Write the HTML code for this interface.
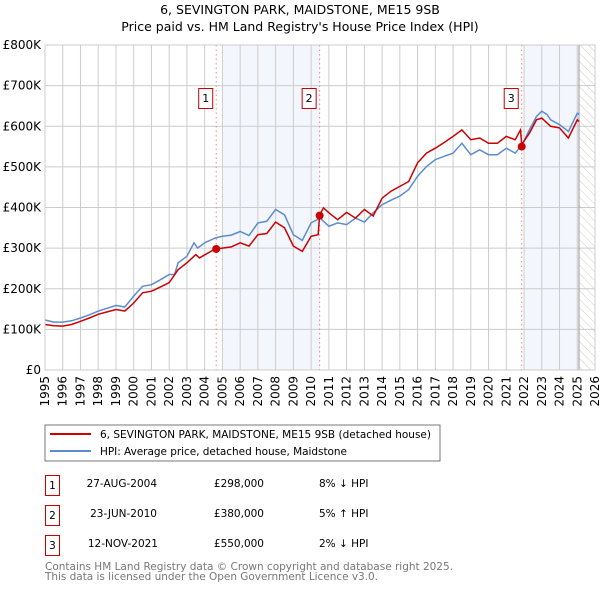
<!DOCTYPE html>
<html><head><meta charset="utf-8"><style>
body{margin:0;background:#fff;font-family:"DejaVu Sans","Liberation Sans",sans-serif;}
svg text{font-family:"DejaVu Sans","Liberation Sans",sans-serif;}
</style></head><body>
<svg id="c" width="600" height="590" xmlns="http://www.w3.org/2000/svg">
<defs><pattern id="hatch" width="6" height="6" patternUnits="userSpaceOnUse" patternTransform="rotate(-45)"><line x1="0" y1="0" x2="0" y2="6" stroke="#ccc" stroke-width="1"/></pattern></defs>
<text x="300" y="14" font-size="12.5" text-anchor="middle">6, SEVINGTON PARK, MAIDSTONE, ME15 9SB</text>
<text x="300" y="31" font-size="12.5" text-anchor="middle">Price paid vs. HM Land Registry's House Price Index (HPI)</text>
<g id="plot"></g>
<rect x="45" y="425" width="395" height="36" fill="#fff" stroke="#777"/>
<line x1="50" y1="434" x2="91" y2="434" stroke="#cc0000" stroke-width="2"/>
<text x="100" y="438" font-size="10.5" textLength="331">6, SEVINGTON PARK, MAIDSTONE, ME15 9SB (detached house)</text>
<line x1="50" y1="451" x2="91" y2="451" stroke="#5b8ccc" stroke-width="2"/>
<text x="100" y="455" font-size="10.5" textLength="247">HPI: Average price, detached house, Maidstone</text>
<g font-size="10.5">
<g><rect x="45.5" y="475.5" width="14" height="20" fill="#fff" stroke="#c00"/><text x="52.5" y="489" text-anchor="middle">1</text><text x="157" y="487" text-anchor="end">27-AUG-2004</text><text x="264" y="487" text-anchor="end">£298,000</text><text x="319" y="487">8% ↓ HPI</text></g>
<g><rect x="45.5" y="505.5" width="14" height="20" fill="#fff" stroke="#c00"/><text x="52.5" y="519" text-anchor="middle">2</text><text x="157" y="517" text-anchor="end">23-JUN-2010</text><text x="264" y="517" text-anchor="end">£380,000</text><text x="319" y="517">5% ↑ HPI</text></g>
<g><rect x="45.5" y="535.5" width="14" height="20" fill="#fff" stroke="#c00"/><text x="52.5" y="549" text-anchor="middle">3</text><text x="158" y="547" text-anchor="end">12-NOV-2021</text><text x="264" y="547" text-anchor="end">£550,000</text><text x="319" y="547">2% ↓ HPI</text></g>
</g>
<text x="45" y="570" font-size="10.5" fill="#777" textLength="408">Contains HM Land Registry data © Crown copyright and database right 2025.</text>
<text x="45" y="580" font-size="10.5" fill="#777" textLength="333">This data is licensed under the Open Government Licence v3.0.</text>
</svg>
<script>
const yTicks=[0,100,200,300,400,500,600,700,800];
const yTickLabels=["£0","£100K","£200K","£300K","£400K","£500K","£600K","£700K","£800K"];
const xYears=[1995,1996,1997,1998,1999,2000,2001,2002,2003,2004,2005,2006,2007,2008,2009,2010,2011,2012,2013,2014,2015,2016,2017,2018,2019,2020,2021,2022,2023,2024,2025,2026];
const hpiT=[1995,1995.5,1996,1996.5,1997,1997.5,1998,1998.5,1999,1999.5,2000,2000.5,2001,2001.5,2002,2002.3,2002.5,2003,2003.4,2003.6,2004,2004.6,2005,2005.5,2006,2006.5,2007,2007.5,2008,2008.5,2009,2009.5,2010,2010.5,2011,2011.5,2012,2012.5,2013,2013.5,2014,2014.5,2015,2015.5,2016,2016.5,2017,2017.5,2018,2018.5,2019,2019.5,2020,2020.5,2021,2021.5,2021.9,2022.3,2022.7,2023,2023.3,2023.5,2024,2024.5,2025,2025.1];
const hpiV=[123,118,118,121,128,136,145,152,159,155,182,206,210,222,235,235,264,280,313,300,313,325,329,332,341,331,362,366,395,382,333,319,362,374,354,362,358,374,364,387,407,418,428,444,477,501,518,526,534,558,530,542,530,530,546,534,555,591,624,637,629,616,604,587,632,629];
const ppT=[1995,1995.5,1996,1996.5,1997,1997.5,1998,1998.5,1999,1999.5,2000,2000.5,2001,2001.5,2002,2002.5,2003,2003.5,2003.7,2004.6,2005,2005.5,2006,2006.5,2007,2007.5,2008,2008.5,2009,2009.5,2010,2010.4,2010.48,2010.7,2011,2011.5,2012,2012.5,2013,2013.5,2014,2014.5,2015,2015.5,2016,2016.5,2017,2017.5,2018,2018.5,2019,2019.5,2020,2020.5,2021,2021.5,2021.8,2021.87,2022.3,2022.7,2023,2023.5,2024,2024.5,2025,2025.1];
const ppV=[112,109,108,112,120,128,137,143,149,145,165,190,194,204,215,247,264,284,276,298,300,303,313,305,333,336,364,350,305,292,329,333,382,399,387,370,388,374,395,379,423,440,452,464,510,534,546,560,575,591,567,571,558,558,575,567,591,555,583,616,620,600,596,571,616,612];
const saleT=[2004.65,2010.48,2021.87];
const saleV=[298,380,550];
const saleLabels=["1","2","3"];
const L=45,R=595,T=45,B=370,X0=1995,X1=2026,YMAX=800;
const xs=t=>L+(t-X0)/(X1-X0)*(R-L);
const ys=v=>B-v/YMAX*(B-T);
const NS="http://www.w3.org/2000/svg";
const g=document.getElementById('plot');
function mk(tag,attrs,parent){const e=document.createElementNS(NS,tag);for(const k in attrs)e.setAttribute(k,attrs[k]);(parent||g).appendChild(e);return e;}
let s1=mk('rect',{x:xs(2005),y:T,width:xs(2010.5)-xs(2005),height:B-T,fill:'#eef2fb',opacity:0.7});


let s2=mk('rect',{x:xs(2022),y:T,width:xs(2025.1)-xs(2022),height:B-T,fill:'#eef2fb',opacity:0.7});


let hz=mk('rect',{x:xs(2025.1),y:T,width:R-xs(2025.1),height:B-T,fill:'url(#hatch)'});


xYears.forEach(y=>{const l=mk('line',{x1:xs(y),x2:xs(y),y1:T,y2:B,stroke:'#ccc','stroke-width':1});


const t=mk('text',{x:0,y:0,'font-size':12,'text-anchor':'end',transform:`translate(${xs(y)+4},${B+6}) rotate(-90)`});t.textContent=y;

});
yTicks.forEach((v,i)=>{const l=mk('line',{x1:L,x2:R,y1:ys(v),y2:ys(v),stroke:'#ccc','stroke-width':1});


const t=mk('text',{x:L-4,y:ys(v)+4,'font-size':12,'text-anchor':'end'});t.textContent=yTickLabels[i];

});
let ed=mk('line',{x1:xs(2025.1),x2:xs(2025.1),y1:T,y2:B,stroke:'#999','stroke-width':1});


saleT.forEach((t,i)=>{const l=mk('line',{x1:xs(t),x2:xs(t),y1:T,y2:B,stroke:'#f08080','stroke-width':1,'stroke-dasharray':'1.5,3'});

});
function path(tt,vv,col,name){const d=tt.map((t,i)=>(i?'L':'M')+xs(t).toFixed(1)+','+ys(vv[i]).toFixed(1)).join('');
const p=mk('path',{d:d,fill:'none',stroke:col,'stroke-width':1.5});

}
path(hpiT,hpiV,'#5b8ccc','hpi-line');
path(ppT,ppV,'#cc0000','price-paid-line');
saleT.forEach((t,i)=>{const c=mk('circle',{cx:xs(t),cy:ys(saleV[i]),r:4,fill:'#cc0000'});


const bx=xs(t)-10;
const r=mk('rect',{x:bx-7.5,y:88.5,width:14,height:20,fill:'#fff',stroke:'#c00'});


const tx=mk('text',{x:bx-0.5,y:102,'font-size':11,'text-anchor':'middle'});tx.textContent=saleLabels[i];

});
let fr=mk('rect',{x:L,y:T,width:R-L,height:B-T,fill:'none',stroke:'#ccc'});


</script>
</body></html>
